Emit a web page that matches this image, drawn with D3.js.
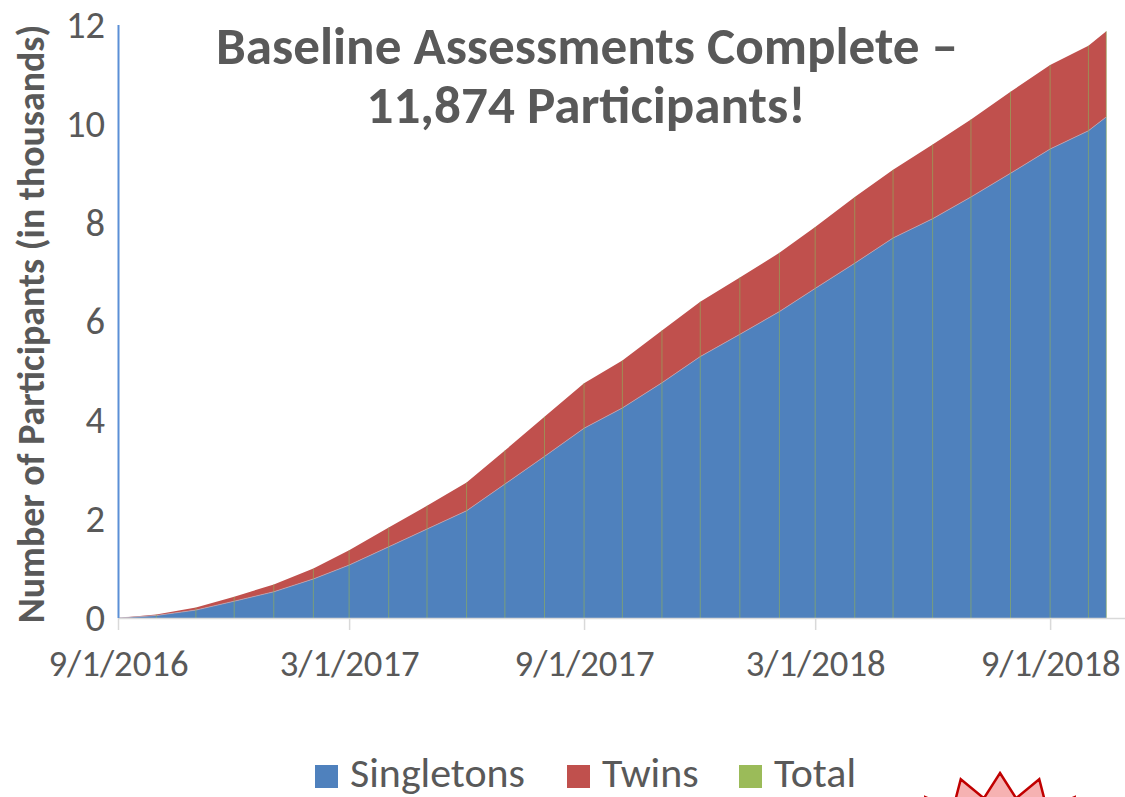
<!DOCTYPE html>
<html>
<head>
<meta charset="utf-8">
<script src="https://cdn.jsdelivr.net/npm/d3@7"></script>
<style>
  html, body { margin: 0; padding: 0; background: #ffffff; }
  svg { display: block; }
  text { font-family: Carlito, Calibri, Lato, "Open Sans", sans-serif; }
</style>
</head>
<body>
<svg id="chart" width="1125" height="797"></svg>
<script>
// ---- Data (values in thousands) ----
const dates = ["2016-09-01","2016-10-01","2016-11-01","2016-12-01","2017-01-01","2017-02-01",
  "2017-03-01","2017-04-01","2017-05-01","2017-06-01","2017-07-01","2017-08-01","2017-09-01",
  "2017-10-01","2017-11-01","2017-12-01","2018-01-01","2018-02-01","2018-03-01","2018-04-01",
  "2018-05-01","2018-06-01","2018-07-01","2018-08-01","2018-09-01","2018-10-01","2018-10-15"];
const singletons = [0, 0.05, 0.16, 0.34, 0.53, 0.79, 1.07, 1.44, 1.80, 2.17, 2.71, 3.27, 3.84,
  4.25, 4.76, 5.29, 5.74, 6.20, 6.67, 7.18, 7.69, 8.08, 8.52, 9.00, 9.49, 9.86, 10.14];
const twins = [0, 0.02, 0.05, 0.09, 0.15, 0.21, 0.30, 0.39, 0.47, 0.57, 0.68, 0.80, 0.91,
  0.96, 1.06, 1.11, 1.15, 1.19, 1.24, 1.34, 1.38, 1.50, 1.57, 1.65, 1.70, 1.72, 1.734];
const totals = [0, 0.07, 0.21, 0.43, 0.68, 1.00, 1.37, 1.83, 2.27, 2.74, 3.39, 4.07, 4.75,
  5.21, 5.82, 6.40, 6.89, 7.39, 7.91, 8.52, 9.07, 9.58, 10.09, 10.65, 11.19, 11.58, 11.874];
const xTickDates = ["2016-09-01","2017-03-01","2017-09-01","2018-03-01","2018-09-01"];
const xTickLabels = ["9/1/2016","3/1/2017","9/1/2017","3/1/2018","9/1/2018"];
const yTicks = [0, 2, 4, 6, 8, 10, 12];
const seriesNames = ["Singletons", "Twins", "Total"];
const seriesColors = ["#4f81bd", "#c0504d", "#9bbb59"];
const titleLines = ["Baseline Assessments Complete \u2013", "11,874 Participants!"];
const yTitle = "Number of Participants (in thousands)";

// ---- Setup ----
const svg = d3.select("#chart");
const parse = d3.utcParse("%Y-%m-%d");
const rows = dates.map((d, i) => ({ date: parse(d), Singletons: singletons[i], Twins: twins[i], Total: totals[i] }));

const x = d3.scaleUtc().domain([parse("2016-09-01"), parse("2018-11-01")]).range([118, 1128]);
const y = d3.scaleLinear().domain([0, 12]).range([618, 25]);

function fitText(sel, target) {
  const node = sel.node();
  let fs = parseFloat(sel.attr("font-size"));
  for (let k = 0; k < 4; k++) {
    const w = node.getComputedTextLength();
    if (w > 0) { fs = fs * target / w; sel.attr("font-size", fs); }
  }
  return fs;
}

// ---- Stacked areas ----
const stack = d3.stack().keys(["Singletons", "Twins"]);
const layers = stack(rows);
const area = d3.area()
  .x(d => x(d.data.date))
  .y0(d => y(d[0]))
  .y1(d => y(d[1]));

svg.append("g").selectAll("path")
  .data(layers)
  .join("path")
  .attr("d", area)
  .attr("fill", (d, i) => seriesColors[i]);

// boundary line between singletons and twins (thin light edge)
svg.append("path")
  .datum(rows)
  .attr("d", d3.line().x(d => x(d.date)).y(d => y(d.Singletons)))
  .attr("fill", "none")
  .attr("stroke", "#b9a6b4")
  .attr("stroke-width", 0.8);

// ---- Total series as thin green drop bars ----
svg.append("g").selectAll("line")
  .data(rows.slice(1))
  .join("line")
  .attr("x1", d => x(d.date)).attr("x2", d => x(d.date))
  .attr("y1", y(0)).attr("y2", d => y(d.Total))
  .attr("stroke", "#8fae5a")
  .attr("stroke-opacity", 0.65)
  .attr("stroke-width", 1);

// ---- Axes ----
const xAxis = d3.axisBottom(x)
  .tickValues(xTickDates.map(parse))
  .tickFormat((d, i) => xTickLabels[i])
  .tickSize(12)
  .tickPadding(20);
const gx = svg.append("g").attr("transform", `translate(0,${y(0)})`).call(xAxis);
gx.select(".domain").attr("stroke", "#d9d9d9").attr("stroke-width", 1.5)
  .attr("d", `M${x(parse("2016-09-01"))},0.5H1125`);
gx.selectAll(".tick line").attr("stroke", "#d9d9d9").attr("stroke-width", 1.5);
const xLabels = gx.selectAll(".tick text")
  .attr("fill", "#595959")
  .attr("font-size", 36)
  .attr("font-family", "Carlito, Calibri, Lato, 'Open Sans', sans-serif")
  .attr("dy", "0.71em");
const labelFs = fitText(d3.select(xLabels.nodes()[0]), 140);
xLabels.attr("font-size", labelFs);

const yAxis = d3.axisLeft(y).tickValues(yTicks).tickSize(0).tickPadding(14);
const gy = svg.append("g").attr("transform", `translate(118,0)`).call(yAxis);
gy.select(".domain").remove();
gy.selectAll(".tick text")
  .attr("fill", "#595959")
  .attr("font-size", labelFs * 1.05)
  .attr("font-family", "Carlito, Calibri, Lato, 'Open Sans', sans-serif")
  .attr("x", -13);

// blue vertical axis line
svg.append("line")
  .attr("x1", 118.5).attr("x2", 118.5)
  .attr("y1", y(12)).attr("y2", y(0))
  .attr("stroke", "#5b8fd6").attr("stroke-width", 2);

// ---- Y title ----
const yt = svg.append("text")
  .attr("transform", "translate(31,324) rotate(-90)")
  .attr("text-anchor", "middle")
  .attr("dominant-baseline", "central")
  .attr("font-weight", "bold")
  .attr("font-size", 30)
  .attr("fill", "#595959")
  .text(yTitle);
fitText(yt, 598);

// ---- Title ----
const t1 = svg.append("text")
  .attr("x", 587).attr("y", 64)
  .attr("text-anchor", "middle")
  .attr("font-weight", "bold")
  .attr("font-size", 46)
  .attr("fill", "#595959")
  .text(titleLines[0]);
const titleFs = fitText(t1, 742);
svg.append("text")
  .attr("x", 586).attr("y", 123)
  .attr("text-anchor", "middle")
  .attr("font-weight", "bold")
  .attr("font-size", titleFs)
  .attr("fill", "#595959")
  .text(titleLines[1]);

// ---- Legend ----
const legX = [315, 567, 739];
const leg = svg.append("g");
seriesNames.forEach((name, i) => {
  leg.append("rect")
    .attr("x", legX[i]).attr("y", 765)
    .attr("width", 23).attr("height", 23)
    .attr("fill", seriesColors[i]);
});
const legTexts = seriesNames.map((name, i) =>
  leg.append("text")
    .attr("x", legX[i] + 35).attr("y", 787)
    .attr("font-size", 38)
    .attr("fill", "#595959")
    .text(name));
const legFs = fitText(legTexts[0], 175);
legTexts.forEach(t => t.attr("font-size", legFs));

// ---- Decorative starburst (partially visible at the bottom) ----
const cx = 1000, cy = 900, rOut = 127, rIn = 103, n = 20;
const starPts = d3.range(n * 2).map(k => {
  const a = k * Math.PI / n;
  const r = k % 2 === 0 ? rOut : rIn;
  return [cx + r * Math.sin(a), cy - r * Math.cos(a)];
});
svg.append("polygon")
  .attr("points", starPts.map(p => p.join(",")).join(" "))
  .attr("fill", "#f6b2b2")
  .attr("stroke", "#c00000")
  .attr("stroke-width", 2.5)
  .attr("stroke-linejoin", "miter");
</script>
</body>
</html>
